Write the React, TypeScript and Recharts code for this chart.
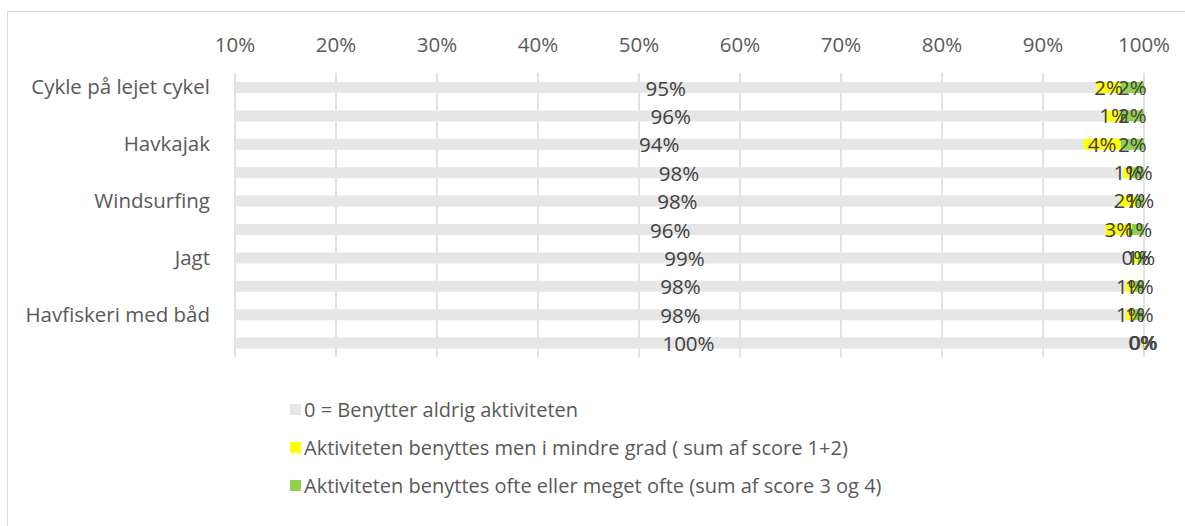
import React from "react";
import {
  BarChart,
  Bar,
  XAxis,
  YAxis,
  CartesianGrid,
  LabelList,
  Legend,
} from "recharts";

// rækker oppefra og ned – kun hver anden kategori har en synlig etiket
const categories = [
  "Cykle på lejet cykel",
  "",
  "Havkajak",
  "",
  "Windsurfing ",
  "",
  "Jagt",
  "",
  "Havfiskeri med båd",
  "",
];

const never = [95.3, 96.3, 94.0, 97.9, 97.6, 96.2, 99.0, 98.2, 98.2, 99.8];
const some = [2.4, 1.4, 3.7, 1.0, 1.6, 2.6, 0.4, 0.9, 0.9, 0.1];
const often = [2.3, 2.3, 2.3, 1.1, 0.8, 1.2, 0.6, 0.9, 0.9, 0.1];

const xTicks = [10, 20, 30, 40, 50, 60, 70, 80, 90, 100];

const seriesNames = [
  "0 = Benytter aldrig aktiviteten",
  "Aktiviteten benyttes men i mindre grad ( sum af score 1+2)",
  "Aktiviteten benyttes ofte eller meget ofte (sum af score 3 og 4)",
];
const seriesColors = ["#e6e6e6", "#ffff00", "#92d050"];

const data = categories.map((name, i) => ({
  name,
  never: never[i],
  some: some[i],
  often: often[i],
}));

const FONT = "'Open Sans', sans-serif";
const FS = 20.5;
const PLOT_LEFT = 235;

const pct = (v: any) => `${Math.round(Number(v))}%`;

// Excel centrerer etiketten på den synlige del af søjlen (aksen starter ved 10%)
function GreyLabel(props: any) {
  const { x, y, width, height, value } = props;
  const x0 = Number(x);
  const start = Math.max(x0, PLOT_LEFT);
  const cx = (start + x0 + Number(width)) / 2;
  return (
    <text
      x={cx}
      y={Number(y) + Number(height) / 2}
      textAnchor="middle"
      dominantBaseline="central"
      fill="#404040"
      fontSize={FS}
      fontFamily={FONT}
    >
      {pct(value)}
    </text>
  );
}

function renderLegend(props: any) {
  const payload = props.payload || [];
  return (
    <div style={{ fontFamily: FONT, fontSize: 20, color: "#595959" }}>
      {payload.map((p: any) => (
        <div
          key={p.value}
          style={{
            height: 38,
            display: "flex",
            alignItems: "center",
            whiteSpace: "nowrap",
          }}
        >
          <span
            style={{
              width: 11,
              height: 11,
              background: p.color,
              display: "inline-block",
              marginRight: 3,
            }}
          />
          <span>{p.value}</span>
        </div>
      ))}
    </div>
  );
}

export default function App() {
  return (
    <div
      style={{
        position: "absolute",
        left: 0,
        top: 0,
        width: 1185,
        height: 526,
        overflow: "hidden",
        background: "#fff",
      }}
    >
      <div
        style={{
          position: "absolute",
          left: 7,
          top: 11,
          width: 1300,
          height: 700,
          border: "1px solid #d9d9d9",
        }}
      />
      <div style={{ position: "absolute", left: 0, top: 0 }}>
        <BarChart
          width={1185}
          height={526}
          data={data}
          layout="vertical"
          barSize={11}
          margin={{ top: 33, right: 41, bottom: 169, left: 0 }}
        >
          <CartesianGrid
            horizontal={false}
            stroke="#d9d9d9"
            strokeWidth={1.5}
          />
          <XAxis
            type="number"
            orientation="top"
            domain={[10, 100]}
            ticks={xTicks}
            allowDataOverflow
            tickFormatter={(v) => `${v}%`}
            axisLine={false}
            tickLine={false}
            tickSize={0}
            tickMargin={21}
            height={40}
            tick={{ fill: "#595959", fontSize: FS, fontFamily: FONT }}
          />
          <YAxis
            type="category"
            dataKey="name"
            width={235}
            interval={0}
            axisLine={false}
            tickLine={false}
            tickSize={0}
            tickMargin={25}
            tick={{ fill: "#595959", fontSize: FS, fontFamily: FONT }}
          />
          <Bar
            dataKey="never"
            name={seriesNames[0]}
            stackId="a"
            fill={seriesColors[0]}
            isAnimationActive={false}
          >
            <LabelList dataKey="never" content={GreyLabel} />
          </Bar>
          <Bar
            dataKey="some"
            name={seriesNames[1]}
            stackId="a"
            fill={seriesColors[1]}
            isAnimationActive={false}
          >
            <LabelList
              dataKey="some"
              position="center"
              formatter={pct}
              fill="#404040"
              fontSize={FS}
              fontFamily={FONT}
            />
          </Bar>
          <Bar
            dataKey="often"
            name={seriesNames[2]}
            stackId="a"
            fill={seriesColors[2]}
            isAnimationActive={false}
          >
            <LabelList
              dataKey="often"
              position="center"
              formatter={pct}
              fill="#404040"
              fontSize={FS}
              fontFamily={FONT}
            />
          </Bar>
          <Legend
            layout="vertical"
            align="center"
            verticalAlign="middle"
            wrapperStyle={{ left: 290, top: 390, width: 800 }}
            content={renderLegend}
          />
        </BarChart>
      </div>
    </div>
  );
}
